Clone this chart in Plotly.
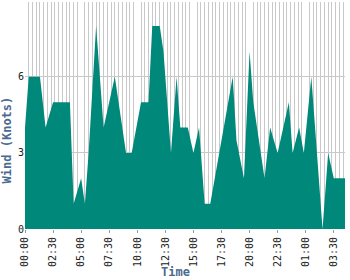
import datetime as dt
import plotly.graph_objects as go

# Time stamps (HH:MM, rolling over midnight) and wind speed in knots
times = ["00:00", "00:20", "01:20", "01:50", "02:30", "04:00", "04:20", "05:00",
         "05:20", "05:40", "06:00", "06:20", "07:00", "08:00", "09:00", "09:30",
         "10:20", "11:00", "11:20", "12:00", "12:20", "13:00", "13:30", "13:50",
         "14:30", "15:00", "15:30", "16:00", "16:30", "18:30", "18:50", "19:30",
         "20:00", "20:20", "21:00", "21:20", "21:50", "22:30", "23:30", "23:50",
         "00:25", "00:50", "01:30", "02:30", "03:00", "03:30", "04:30"]
wind = [4, 6, 6, 4, 5, 5, 1, 2,
        1, 3, 5.5, 8, 4, 6, 3, 3,
        5, 5, 8, 8, 7, 3, 6, 4,
        4, 3, 4, 1, 1, 6, 3.5, 2,
        7, 5, 3, 2, 4, 3, 5, 3,
        4, 3, 6, 0, 3, 2, 2]
x_ticks_every_hours = 2.5
grid_every_minutes = 20
x_title = "Time"
y_title = "Wind (Knots)"

base = dt.datetime(2024, 1, 1)
xs = []
day = 0
prev = None
for t in times:
    h, m = map(int, t.split(":"))
    mins = h * 60 + m
    if prev is not None and mins < prev:
        day += 1
    prev = mins
    xs.append(base + dt.timedelta(days=day, minutes=mins))

fig = go.Figure()
fig.add_trace(go.Scatter(
    x=xs, y=wind, mode="lines", fill="tozeroy",
    line=dict(color="#00897B", width=0),
    fillcolor="#00897B", hoverinfo="skip"))

tick_font = dict(family="DejaVu Sans Mono", size=10, color="#222222")
title_font = dict(family="DejaVu Sans Mono", size=12, color="#4A6A8F", weight="bold")

fig.update_layout(
    width=350, height=280,
    margin=dict(l=25, r=5, t=2, b=51),
    paper_bgcolor="white", plot_bgcolor="white",
    showlegend=False,
    xaxis=dict(
        type="date",
        range=[base, base + dt.timedelta(hours=28.5)],
        tick0=base, dtick=x_ticks_every_hours * 3600 * 1000,
        tickformat="%H:%M", tickangle=-90, tickfont=tick_font,
        ticks="outside", ticklen=3, tickcolor="#999999",
        showgrid=False, zeroline=False, showline=False,
        minor=dict(dtick=grid_every_minutes * 60 * 1000, tick0=base,
                   showgrid=True, gridcolor="#c8c8c8", gridwidth=1, ticks=""),
        automargin=False,
    ),
    yaxis=dict(
        range=[0, 8.95], tickvals=[0, 3, 6], tickfont=tick_font,
        showgrid=True, gridcolor="#c8c8c8", gridwidth=1,
        zeroline=False, showline=False,
        automargin=False,
    ),
    annotations=[
        dict(text=x_title, xref="paper", yref="paper", x=0.469, y=-0.19,
             showarrow=False, font=title_font, xanchor="center", yanchor="middle"),
        dict(text=y_title, xref="paper", yref="paper", x=-0.055, y=0.392,
             showarrow=False, font=title_font, textangle=-90,
             xanchor="center", yanchor="middle"),
    ],
)

fig.write_html("out.html")
